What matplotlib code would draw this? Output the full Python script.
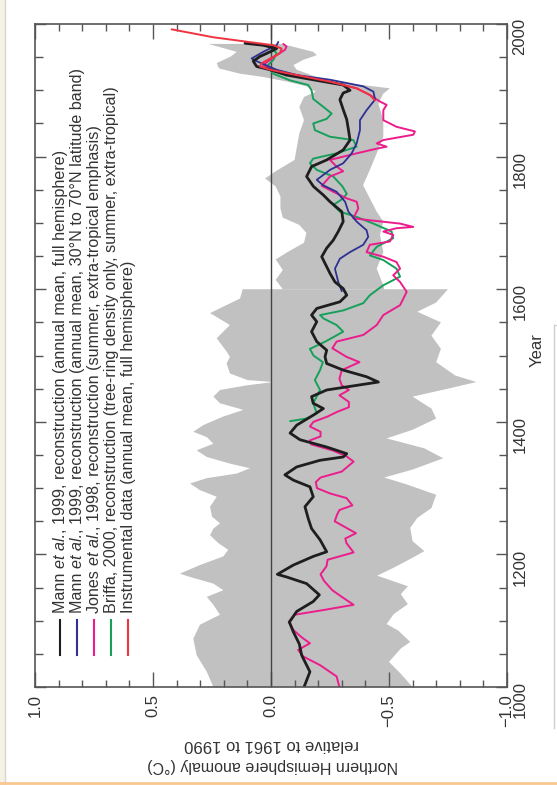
import numpy as np
import matplotlib.pyplot as plt
from matplotlib.lines import Line2D
from matplotlib.patches import Rectangle
from matplotlib.ticker import MultipleLocator
from matplotlib.transforms import IdentityTransform

plt.rcParams['font.family'] = ['Liberation Sans', 'DejaVu Sans']

# Mann et al. 1999, full hemisphere (black)
mann_yr = [1000, 1023, 1048, 1065, 1083, 1098, 1114, 1129, 1139, 1156, 1166, 1170, 1184,
           1197, 1204, 1222, 1239, 1254, 1272, 1287, 1302, 1312, 1320, 1332, 1342, 1347,
           1352, 1362, 1373, 1383, 1395, 1410, 1420, 1428, 1438, 1448, 1455, 1460, 1468,
           1478, 1488, 1498, 1508, 1521, 1536, 1551, 1561, 1571, 1581, 1591, 1601, 1611,
           1624, 1639, 1649, 1662, 1674, 1687, 1702, 1717, 1732, 1742, 1755, 1770, 1785,
           1795, 1810, 1825, 1841, 1856, 1871, 1886, 1896, 1900, 1908, 1915, 1923, 1931,
           1936, 1944, 1951, 1958, 1963, 1968, 1971]
mann_val = [-0.14, -0.165, -0.13, -0.12, -0.095, -0.078, -0.109, -0.179, -0.205, -0.151,
            -0.066, -0.027, -0.095, -0.179, -0.236, -0.208, -0.172, -0.158, -0.144, -0.179,
            -0.165, -0.095, -0.059, -0.109, -0.208, -0.306, -0.321, -0.236, -0.123, -0.081,
            -0.109, -0.179, -0.222, -0.179, -0.172, -0.236, -0.363, -0.455, -0.405, -0.306,
            -0.236, -0.229, -0.236, -0.194, -0.172, -0.194, -0.172, -0.194, -0.292, -0.321,
            -0.306, -0.271, -0.25, -0.229, -0.215, -0.236, -0.264, -0.285, -0.306, -0.3,
            -0.25, -0.222, -0.18, -0.151, -0.172, -0.236, -0.306, -0.335, -0.328, -0.321,
            -0.306, -0.292, -0.306, -0.335, -0.306, -0.194, -0.066, 0.004, 0.061, 0.075,
            0.047, 0.004, -0.024, 0.033, 0.11]

# Mann et al. 1999, 30N-70N (blue)
band30_yr = [1597, 1611, 1631, 1646, 1656, 1667, 1679, 1689, 1702, 1717, 1732, 1747, 1757,
             1765, 1780, 1790, 1805, 1820, 1840, 1855, 1870, 1886, 1898, 1906, 1916, 1923,
             1931, 1944, 1948, 1958, 1968, 1973]
band30_val = [-0.3, -0.285, -0.271, -0.292, -0.335, -0.391, -0.412, -0.405, -0.363, -0.328,
              -0.314, -0.278, -0.22, -0.194, -0.25, -0.306, -0.342, -0.363, -0.377, -0.377,
              -0.405, -0.441, -0.434, -0.391, -0.25, -0.109, -0.024, 0.061, 0.082, 0.033,
              -0.024, -0.031]

# Jones et al. 1998 (magenta)
jones_yr = [1000, 1016, 1033, 1046, 1056, 1066, 1075, 1086, 1098, 1109, 1116, 1124, 1136,
            1146, 1160, 1170, 1182, 1192, 1203, 1217, 1224, 1232, 1240, 1250, 1260, 1267,
            1274, 1285, 1292, 1300, 1309, 1316, 1325, 1340, 1348, 1357, 1366, 1372, 1378,
            1385, 1393, 1400, 1408, 1415, 1422, 1430, 1440, 1448, 1455, 1465, 1478, 1490,
            1498, 1511, 1521, 1531, 1546, 1561, 1576, 1596, 1611, 1621, 1631, 1641, 1649,
            1656, 1667, 1672, 1682, 1687, 1692, 1694, 1699, 1704, 1707, 1722, 1732, 1737,
            1747, 1756, 1770, 1778, 1785, 1795, 1805, 1812, 1815, 1820, 1825, 1833, 1838,
            1845, 1855, 1870, 1878, 1883, 1893, 1903, 1913, 1923, 1931, 1938, 1946, 1953,
            1961, 1966, 1970]
jones_val = [-0.29, -0.278, -0.208, -0.137, -0.115, -0.165, -0.13, -0.095, -0.075, -0.1,
             -0.22, -0.35, -0.3, -0.26, -0.225, -0.21, -0.235, -0.24, -0.35, -0.32, -0.315,
             -0.36, -0.32, -0.27, -0.28, -0.29, -0.345, -0.32, -0.25, -0.195, -0.19, -0.21,
             -0.3, -0.35, -0.32, -0.26, -0.17, -0.165, -0.21, -0.21, -0.165, -0.18, -0.24,
             -0.28, -0.33, -0.33, -0.29, -0.33, -0.3, -0.29, -0.3, -0.375, -0.32, -0.26,
             -0.278, -0.391, -0.448, -0.476, -0.547, -0.575, -0.547, -0.518, -0.547, -0.532,
             -0.476, -0.405, -0.419, -0.504, -0.518, -0.476, -0.532, -0.603, -0.547, -0.419,
             -0.349, -0.37, -0.363, -0.321, -0.264, -0.215, -0.25, -0.306, -0.278, -0.25,
             -0.363, -0.448, -0.49, -0.448, -0.476, -0.603, -0.61, -0.532, -0.476, -0.476,
             -0.49, -0.462, -0.419, -0.363, -0.25, -0.109, -0.01, 0.033, 0.004, -0.024,
             -0.059, -0.066, -0.052]

# Briffa 2000 (green)
briffa_yr = [1401, 1405, 1413, 1428, 1448, 1463, 1478, 1490, 1500, 1510, 1521, 1536, 1546,
             1556, 1561, 1568, 1579, 1591, 1606, 1619, 1631, 1644, 1651, 1664, 1677, 1687,
             1699, 1709, 1717, 1727, 1737, 1744, 1755, 1770, 1780, 1790, 1797, 1805, 1815,
             1825, 1830, 1840, 1850, 1857, 1865, 1875, 1887, 1900, 1908, 1915, 1925, 1936,
             1946, 1956, 1961]
briffa_val = [-0.081, -0.151, -0.194, -0.179, -0.208, -0.186, -0.208, -0.22, -0.18, -0.165,
              -0.23, -0.306, -0.278, -0.222, -0.208, -0.306, -0.391, -0.419, -0.476, -0.547,
              -0.532, -0.476, -0.419, -0.448, -0.518, -0.511, -0.434, -0.363, -0.292, -0.264,
              -0.306, -0.321, -0.303, -0.264, -0.194, -0.165, -0.179, -0.278, -0.363, -0.349,
              -0.25, -0.186, -0.179, -0.236, -0.257, -0.222, -0.179, -0.172, -0.158, -0.081,
              -0.01, 0.018, -0.01, -0.024, -0.01]

# Instrumental (red)
instr_yr = [1885, 1893, 1903, 1913, 1923, 1931, 1936, 1941, 1948, 1956, 1963, 1968, 1980, 1992]
instr_val = [-0.44, -0.419, -0.363, -0.25, -0.109, 0.004, 0.047, 0.039, 0.004, -0.038,
             -0.045, -0.01, 0.244, 0.421]

# uncertainty band, 1000-1600 (wide) and 1600-1980 (narrow)
early_hi_yr = [1000, 1023, 1048, 1073, 1094, 1109, 1124, 1136, 1146, 1156, 1166, 1171, 1184,
               1197, 1207, 1217, 1229, 1239, 1247, 1257, 1272, 1287, 1297, 1307, 1315, 1322,
               1330, 1337, 1347, 1357, 1367, 1377, 1385, 1395, 1408, 1418, 1428, 1438, 1448,
               1455, 1460, 1463, 1473, 1488, 1498, 1506, 1526, 1546, 1564, 1586, 1600]
early_hi = [0.244, 0.272, 0.315, 0.329, 0.301, 0.216, 0.244, 0.272, 0.202, 0.244, 0.343,
            0.386, 0.301, 0.202, 0.181, 0.223, 0.258, 0.244, 0.216, 0.25, 0.258, 0.23, 0.301,
            0.343, 0.272, 0.145, 0.089, 0.174, 0.272, 0.315, 0.244, 0.272, 0.329, 0.287,
            0.202, 0.117, 0.216, 0.244, 0.216, 0.103, -0.01, 0.1, 0.174, 0.188, 0.174, 0.188,
            0.23, 0.174, 0.258, 0.131, 0.12]
early_lo_yr = [1000, 1020, 1038, 1058, 1068, 1085, 1095, 1110, 1125, 1140, 1152, 1168, 1180,
               1195, 1205, 1220, 1240, 1255, 1270, 1290, 1305, 1316, 1328, 1345, 1360, 1375,
               1388, 1405, 1420, 1438, 1450, 1460, 1470, 1490, 1510, 1530, 1550, 1566, 1580,
               1600]
early_lo = [-0.6, -0.55, -0.5, -0.55, -0.59, -0.54, -0.49, -0.52, -0.58, -0.55, -0.58, -0.45,
            -0.52, -0.6, -0.65, -0.6, -0.59, -0.62, -0.68, -0.7, -0.58, -0.48, -0.6, -0.73,
            -0.65, -0.49, -0.6, -0.7, -0.68, -0.6, -0.75, -0.87, -0.78, -0.7, -0.72, -0.68,
            -0.72, -0.62, -0.7, -0.75]
late_hi_yr = [1600, 1614, 1629, 1645, 1656, 1670, 1685, 1697, 1708, 1722, 1740, 1755, 1767,
              1778, 1795, 1815, 1835, 1855, 1875, 1890, 1898, 1906, 1913, 1920, 1925, 1933,
              1941, 1951, 1958, 1970]
late_hi = [-0.05, -0.02, -0.05, -0.02, -0.07, -0.14, -0.15, -0.12, -0.05, -0.04, -0.04,
           -0.02, 0.025, -0.02, -0.1, -0.11, -0.12, -0.14, -0.12, -0.14, -0.19, -0.15, -0.07,
           0.03, 0.13, 0.22, 0.23, 0.17, 0.145, 0.265]
late_lo_yr = [1600, 1606, 1631, 1656, 1682, 1702, 1717, 1737, 1757, 1780, 1805, 1830, 1855,
              1880, 1895, 1903, 1909, 1920, 1931, 1938, 1946, 1953, 1958, 1967, 1970]
late_lo = [-0.48, -0.476, -0.448, -0.476, -0.462, -0.476, -0.448, -0.419, -0.39, -0.419,
           -0.448, -0.476, -0.476, -0.455, -0.476, -0.504, -0.363, -0.194, -0.109, -0.095,
           -0.137, -0.194, -0.179, -0.08, -0.038]

# legend entries: (plain, italic, plain) pieces
labels = [('Mann ', 'et al.', ', 1999, reconstruction (annual mean, full hemisphere)'),
          ('Mann ', 'et al.', ', 1999, reconstruction (annual mean, 30°N to 70°N latitude band)'),
          ('Jones ', 'et al.', ', 1998, reconstruction (summer, extra-tropical emphasis)'),
          ('Briffa, 2000, reconstruction (tree-ring density only, summer, extra-tropical)', '', ''),
          ('Instrumental data (annual mean, full hemisphere)', '', '')]
colors = ['#1e1e1e', '#2e3192', '#ec1c8c', '#17a05a', '#ef3340']
txt = '#333333'

fig = plt.figure(figsize=(5.57, 7.85), dpi=100)
ax = fig.add_axes([0.0628, 0.1248, 0.8474, 0.8446])

band = '#c1c1c1'
ax.fill(np.concatenate([early_hi, early_lo[::-1]]),
        np.concatenate([early_hi_yr, early_lo_yr[::-1]]), color=band, lw=0)
ax.fill(np.concatenate([late_hi, late_lo[::-1]]),
        np.concatenate([late_hi_yr, late_lo_yr[::-1]]), color=band, lw=0)
ax.axvline(0, color='#444444', lw=1.0)

kw = dict(solid_joinstyle='round', solid_capstyle='round')
ax.plot(briffa_val, briffa_yr, color=colors[3], lw=1.4, **kw)
ax.plot(jones_val, jones_yr, color=colors[2], lw=1.4, **kw)
ax.plot(band30_val, band30_yr, color=colors[1], lw=1.3, **kw)
ax.plot(mann_val, mann_yr, color=colors[0], lw=2.0, **kw)
ax.plot(instr_val, instr_yr, color=colors[4], lw=1.4, **kw)

ax.set_xlim(1.0, -1.0)
ax.set_ylim(1000, 2000)
ax.xaxis.set_major_locator(MultipleLocator(0.5))
ax.xaxis.set_minor_locator(MultipleLocator(0.1))
ax.yaxis.set_major_locator(MultipleLocator(200))
ax.yaxis.set_minor_locator(MultipleLocator(50))
ax.tick_params(axis='x', which='both', direction='in', top=True, bottom=True,
               labelrotation=90, labelsize=12, pad=5, color='#555555', labelcolor=txt)
ax.tick_params(axis='y', which='both', direction='in', left=True, right=True,
               labelleft=False, labelright=True, labelrotation=90, labelsize=12, pad=4,
               color='#555555', labelcolor=txt)
ax.tick_params(axis='x', which='major', length=11, width=1)
ax.tick_params(axis='x', which='minor', length=5, width=1)
ax.tick_params(axis='y', which='major', length=8, width=1)
ax.tick_params(axis='y', which='minor', length=6, width=1)
for s in ax.spines.values():
    s.set_color('#555555')
    s.set_linewidth(1.2)

# legend drawn by hand, rotated like the rest of the figure
renderer = fig.canvas.get_renderer()
leg_size = 11.6


def width_px(s, style='normal'):
    t = fig.text(0, 0, s + '|', fontsize=leg_size, style=style)
    w = t.get_window_extent(renderer).width
    t.set_text('|')
    w -= t.get_window_extent(renderer).width
    t.remove()
    return w


for i, (pieces, col) in enumerate(zip(labels, colors)):
    x = 0.053 + 0.036 * i
    ax.plot([x, x], [0.048, 0.101], transform=ax.transAxes, color=col, lw=1.5)
    bx, by = ax.transAxes.transform((x, 0.112))
    bx += 5.5
    for piece, style in zip(pieces, ['normal', 'italic', 'normal']):
        if not piece:
            continue
        fig.text(bx, by, piece, transform=IdentityTransform(), rotation=90,
                 rotation_mode='anchor', ha='left', va='baseline', fontsize=leg_size,
                 style=style, color=txt)
        by += width_px(piece, style)

fig.text(272 / 557, 1 - 744 / 785, 'relative to 1961 to 1990', rotation=180,
         ha='center', va='center', fontsize=12, color=txt)
fig.text(273 / 557, 1 - 766 / 785, 'Northern Hemisphere anomaly (°C)', rotation=180,
         ha='center', va='center', fontsize=11.5, color=txt)
fig.text(537 / 557, 1 - 350 / 785, 'Year', rotation=90, ha='center', va='center',
         fontsize=12, color=txt)

# page decorations around the scanned figure
fig.patches.append(Rectangle((0, 0), 4 / 557, 1, transform=fig.transFigure,
                             color='#f4f2e6', zorder=0))
fig.add_artist(Line2D([4.5 / 557] * 2, [0, 1], color='#d8d6cc', lw=1))
fig.add_artist(Line2D([0, 1], [2.5 / 785] * 2, color='#f9c78f', lw=2))
fig.add_artist(Line2D([554 / 557] * 2, [1 - 325 / 785, 1 - 728 / 785], color='#cfcfcf', lw=1))
fig.add_artist(Line2D([554 / 557, 1], [1 - 325 / 785] * 2, color='#cfcfcf', lw=1))

fig.savefig('out.png', dpi=100)
